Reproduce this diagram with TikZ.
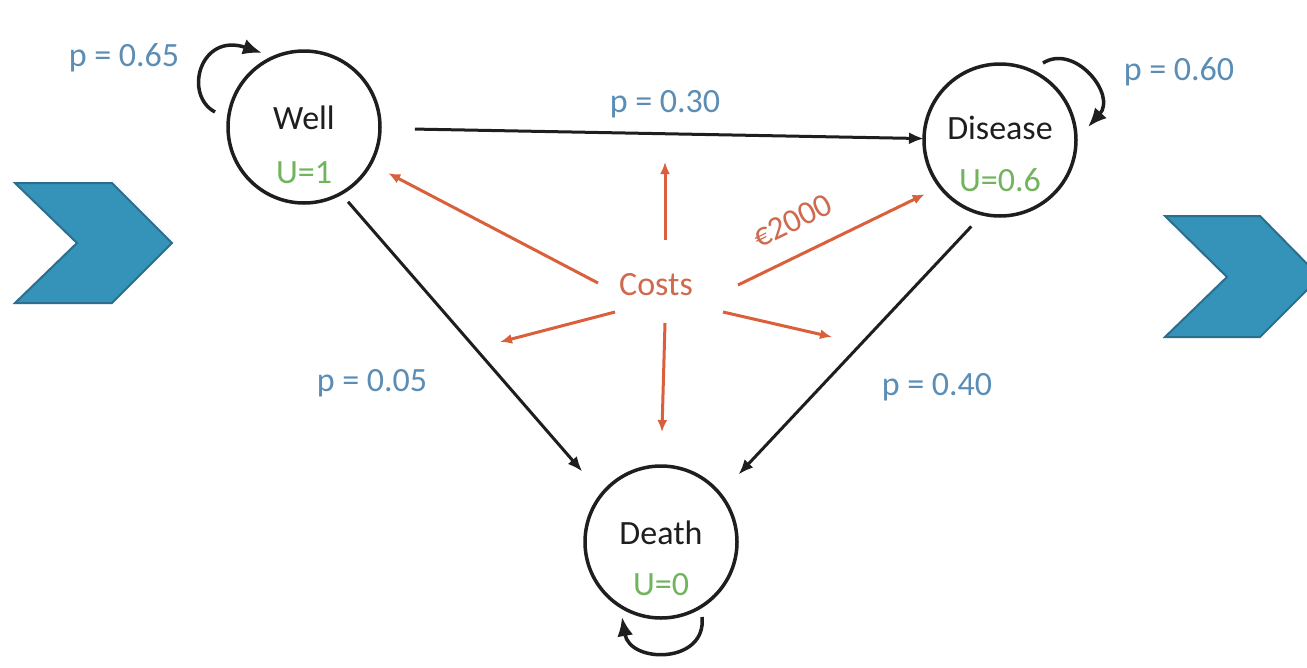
\documentclass[tikz,border=0pt]{standalone}
\usepackage{fontspec}
\setmainfont{Carlito}
\usetikzlibrary{arrows.meta}
\definecolor{pblue}{HTML}{5B8DB5}
\definecolor{ugreen}{HTML}{72B35E}
\definecolor{cred}{HTML}{DA5F3B}
\definecolor{ctext}{HTML}{CF6A4E}
\definecolor{chevfill}{HTML}{3592B8}
\definecolor{chevline}{HTML}{2B6F8F}
\definecolor{ink}{HTML}{1E1E1E}
\tikzset{
  state/.style={circle, draw=ink, line width=3.5pt, minimum size=152pt, inner sep=0pt, outer sep=0pt},
  sname/.style={text=ink, font=\fontsize{34}{40}\selectfont, inner sep=0pt},
  util/.style={text=ugreen, font=\fontsize{34}{40}\selectfont, inner sep=0pt},
  plab/.style={text=pblue, font=\fontsize{34}{40}\selectfont, inner sep=0pt},
  trans/.style={draw=ink, line width=3pt, -{Latex[length=15pt,width=12pt]}},
  selfloop/.style={draw=ink, line width=3.5pt, -{Latex[length=19pt,width=16pt]}},
  costarrow/.style={draw=cred, line width=3pt, -{Latex[length=12pt,width=10pt]}},
  chevron/.style={fill=chevfill, draw=chevline, line width=2pt, line join=miter}
}
\begin{document}
\begin{tikzpicture}[x=1pt, y=-1pt]
\useasboundingbox (0,0) rectangle (1307,667);
\fill[white] (0,0) rectangle (1307,667);
\begin{scope}
\clip (0,0) rectangle (1307,667);
% chevrons
\draw[chevron] (15,183) -- (112,183) -- (172,243) -- (112,303) -- (15,303) -- (77,243) -- cycle;
\draw[chevron] (1165,216) -- (1260,216) -- (1320,277) -- (1260,337) -- (1165,337) -- (1227,277) -- cycle;
\end{scope}

% states
\node[state] (well) at (304,127) {};
\node[state] (disease) at (1000,140) {};
\node[state] (death) at (661,542) {};

\node[sname] (wellname) at (304,118) {Well};
\node[util] (wellu) at (304,173) {U=1};
\node[sname] (disname) at (1000,128) {Disease};
\node[util] (disu) at (1000,180) {U=0.6};
\node[sname] (deathname) at (661,533) {Death};
\node[util] (deathu) at (661,585) {U=0};

% transitions
\draw[trans, shorten <=35pt] (well) -- (disease);
\draw[trans, shorten <=11pt, shorten >=30pt] (well.-61) -- (death.141);
\draw[trans, shorten <=17pt, shorten >=27pt] (disease.257) -- (death.39);

% self loops
\begin{scope}[shift={(well.center)}]
\draw[selfloop] (-89,-15) .. controls (-121,-32) and (-104,-95) .. (-42,-74);
\end{scope}
\begin{scope}[shift={(disease.center)}]
\draw[selfloop] (43,-77) .. controls (75,-97) and (117,-45) .. (88,-13);
\end{scope}
\begin{scope}[shift={(death.center)}]
\draw[selfloop] (41,75) .. controls (46,122) and (-31,122) .. (-39,75);
\end{scope}

% probability labels
\node[plab] (p65) at (124,58) {p = 0.65};
\node[plab] (p30) at (665,104) {p = 0.30};
\node[plab] (p60) at (1179,72) {p = 0.60};
\node[plab] (p05) at (372,383) {p = 0.05};
\node[plab] (p40) at (937,387) {p = 0.40};

% costs
\node[text=ctext, font=\fontsize{34}{40}\selectfont, inner sep=0pt] (costs) at (656,285) {Costs};
\coordinate (cwell) at (598,283);
\coordinate (cdis) at (738,285);
\coordinate (cupS) at (665,240);
\coordinate (cupE) at (665,162);
\coordinate (cdown) at (665,323);
\coordinate (cldS) at (615,312);
\coordinate (cldE) at (500,342);
\coordinate (crdS) at (723,312);
\coordinate (crdE) at (832,337);

\draw[costarrow, shorten >=20pt] (cwell) -- (well.-29);
\draw[costarrow, shorten >=17pt] (cdis) -- (disease.218);
\draw[costarrow] (cupS) -- (cupE);
\draw[costarrow, shorten >=34pt] (cdown) -- (death.north);
\draw[costarrow] (cldS) -- (cldE);
\draw[costarrow] (crdS) -- (crdE);
\node[text=ctext, font=\fontsize{33}{38}\selectfont, inner sep=0pt, rotate=26] (euro) at (792,221) {€2000};
\end{tikzpicture}
\end{document}
